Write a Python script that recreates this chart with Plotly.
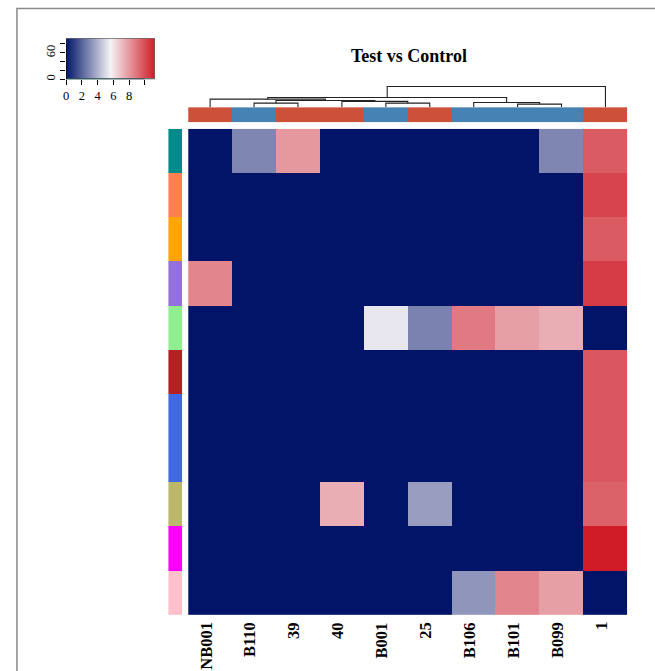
import plotly.graph_objects as go

W, H = 655, 671

# ---- data -------------------------------------------------------------
samples = ["NB001", "B110", "39", "40", "B001", "25", "B106", "B101", "B099", "1"]
sample_group = ["Test", "Control", "Test", "Test", "Control", "Test",
                "Control", "Control", "Control", "Test"]
group_colors = {"Test": "#CD5039", "Control": "#4682B4"}

row_colors = ["#008B8B", "#FF7F50", "#FFA500", "#9370DB", "#90EE90", "#B22222",
              "#4169E1", "#4169E1", "#BDB76B", "#FF00FF", "#FFC0CB"]

values = [
    [0.0, 2.9, 8.0, 0.0, 0.0, 0.0, 0.0, 0.0, 2.9, 9.6],
    [0.0, 0.0, 0.0, 0.0, 0.0, 0.0, 0.0, 0.0, 0.0, 10.2],
    [0.0, 0.0, 0.0, 0.0, 0.0, 0.0, 0.0, 0.0, 0.0, 9.6],
    [8.5, 0.0, 0.0, 0.0, 0.0, 0.0, 0.0, 0.0, 0.0, 10.4],
    [0.0, 0.0, 0.0, 0.0, 5.3, 2.8, 8.8, 7.8, 7.4, 0.0],
    [0.0, 0.0, 0.0, 0.0, 0.0, 0.0, 0.0, 0.0, 0.0, 9.7],
    [0.0, 0.0, 0.0, 0.0, 0.0, 0.0, 0.0, 0.0, 0.0, 9.7],
    [0.0, 0.0, 0.0, 0.0, 0.0, 0.0, 0.0, 0.0, 0.0, 9.7],
    [0.0, 0.0, 0.0, 7.4, 0.0, 3.5, 0.0, 0.0, 0.0, 9.4],
    [0.0, 0.0, 0.0, 0.0, 0.0, 0.0, 0.0, 0.0, 0.0, 11.25],
    [0.0, 0.0, 0.0, 0.0, 0.0, 0.0, 3.3, 8.5, 7.8, 0.0],
]

# column clustering: (left, right, merge height); new nodes are n1, n2, ...
col_merges = [
    ("B110", "39", 4.0),
    ("B001", "25", 4.0),
    ("40", "n2", 5.8),
    ("n1", "n3", 6.6),
    ("NB001", "n4", 8.0),
    ("B101", "B099", 3.0),
    ("B106", "n6", 4.6),
    ("n5", "n7", 9.6),
    ("n8", "1", 20.6),
]

key_ticks = [0, 2, 4, 6, 8, 10]
key_tick_text = ["0", "2", "4", "6", "8", ""]
count_ticks = [0, 20, 40, 60, 80]
count_tick_text = ["0", "", "", "60", ""]
count_top = 92.9

title = "Test vs Control"

# ---- helpers ----------------------------------------------------------
def px(p):
    return p / W


def py(p):
    return 1 - p / H


def stepped(colors):
    n = len(colors)
    cs = []
    for k, c in enumerate(colors):
        cs.append([k / n, c])
        cs.append([(k + 1) / n, c])
    return cs


zmax = max(max(r) for r in values)
heat_cs = [[0.0, "#011468"], [0.5, "#F5F2F6"], [1.0, "#D01C26"]]
serif = "Liberation Serif"

fig = go.Figure()

# main heatmap
fig.add_trace(go.Heatmap(
    z=values, x=list(range(len(samples))), y=list(range(len(values))),
    colorscale=heat_cs, zmin=0, zmax=zmax, showscale=False,
    xaxis="x", yaxis="y", hoverinfo="skip"))

# row side colours
fig.add_trace(go.Heatmap(
    z=[[k] for k in range(len(row_colors))], x=[0], y=list(range(len(row_colors))),
    colorscale=stepped(row_colors), zmin=-0.5, zmax=len(row_colors) - 0.5,
    showscale=False, xaxis="x2", yaxis="y2", hoverinfo="skip"))

# column side colours
grp_names = list(group_colors)
fig.add_trace(go.Heatmap(
    z=[[grp_names.index(g) for g in sample_group]], x=list(range(len(samples))), y=[0],
    colorscale=stepped([group_colors[g] for g in grp_names]),
    zmin=-0.5, zmax=len(grp_names) - 0.5,
    showscale=False, xaxis="x3", yaxis="y3", hoverinfo="skip"))

# column dendrogram
nodes = {s: (i, 0.0) for i, s in enumerate(samples)}
dx, dy = [], []
for k, (a, b, h) in enumerate(col_merges, start=1):
    xa, ha = nodes[a]
    xb, hb = nodes[b]
    dx += [xa, xa, xb, xb, None]
    dy += [ha, h, h, hb, None]
    nodes["n%d" % k] = ((xa + xb) / 2, h)
fig.add_trace(go.Scatter(
    x=dx, y=dy, mode="lines", line=dict(color="#222222", width=1.1),
    xaxis="x4", yaxis="y4", hoverinfo="skip"))

# colour key
nb = 300
edges = [zmax * i / nb for i in range(nb + 1)]
mids = [(edges[i] + edges[i + 1]) / 2 for i in range(nb)]
fig.add_trace(go.Heatmap(
    z=[mids], x=edges, y=[0, count_top], colorscale=heat_cs, zmin=0, zmax=zmax,
    showscale=False, xaxis="x5", yaxis="y5", hoverinfo="skip"))
fig.add_trace(go.Scatter(
    x=[0, zmax], y=[0.6, 0.6], mode="lines",
    line=dict(color="#55DDDD", width=1), xaxis="x5", yaxis="y5", hoverinfo="skip"))

hidden = dict(showgrid=False, zeroline=False, showticklabels=False, ticks="",
              showline=False, fixedrange=True)

heat_x = [px(186), px(627.3)]
heat_y = [py(616), py(129)]

fig.update_layout(
    width=W, height=H, margin=dict(l=0, r=0, t=0, b=0),
    paper_bgcolor="white", plot_bgcolor="white", showlegend=False,
    xaxis=dict(domain=heat_x, range=[-0.5, len(samples) - 0.5], **hidden),
    yaxis=dict(domain=heat_y, range=[len(values) - 0.5, -0.5], **hidden),
    xaxis2=dict(domain=[px(166), px(180)], range=[-0.5, 0.5], **hidden),
    yaxis2=dict(domain=heat_y, range=[len(values) - 0.5, -0.5], **hidden),
    xaxis3=dict(domain=heat_x, range=[-0.5, len(samples) - 0.5], **hidden),
    yaxis3=dict(domain=[py(122.7), py(107.3)], range=[-0.5, 0.5], **hidden),
    xaxis4=dict(domain=heat_x, range=[-0.5, len(samples) - 0.5], **hidden),
    yaxis4=dict(domain=[py(107.3), py(80)], range=[0, 27.3], **hidden),
    xaxis5=dict(domain=[px(63.3), px(152.3)], range=[0, zmax],
                showgrid=False, zeroline=False, showline=False, fixedrange=True,
                tickmode="array", tickvals=key_ticks, ticktext=key_tick_text,
                ticks="outside", ticklen=5, tickcolor="black", tickwidth=1,
                tickfont=dict(family=serif, size=12.5, color="black"),
                anchor="y5"),
    yaxis5=dict(domain=[py(79.3), py(38.3)], range=[0, count_top],
                showgrid=False, zeroline=False, showline=False, fixedrange=True,
                tickmode="array", tickvals=count_ticks, ticktext=count_tick_text,
                ticks="outside", ticklen=5, tickcolor="black", tickwidth=1,
                tickangle=-90,
                tickfont=dict(family=serif, size=12.5, color="black"),
                anchor="x5"),
)

shapes = [
    # outer frame
    dict(type="rect", xref="paper", yref="paper", x0=px(14), y0=py(8.5),
         x1=1.05, y1=-0.05, line=dict(color="#8A8A8A", width=1.5), layer="below"),
    # key border and axis lines
    dict(type="rect", xref="x5", yref="y5", x0=0, y0=0, x1=zmax, y1=count_top,
         line=dict(color="#333333", width=1)),
    dict(type="line", xref="x5", yref="y5", x0=0, y0=0, x1=key_ticks[-1], y1=0,
         line=dict(color="black", width=1)),
    dict(type="line", xref="x5", yref="y5", x0=0, y0=0, x1=0, y1=count_ticks[-1],
         line=dict(color="black", width=1)),
]
fig.update_layout(shapes=shapes)

annotations = [dict(
    text="<b>%s</b>" % title, xref="paper", yref="paper", x=px(407.5), y=py(56),
    xanchor="center", yanchor="middle", showarrow=False,
    font=dict(family=serif, size=18, color="black"))]
for i, s in enumerate(samples):
    annotations.append(dict(
        text="<b>%s</b>" % s, xref="x", yref="paper", x=i, y=py(616),
        xanchor="center", yanchor="top", textangle=-90, showarrow=False,
        xshift=-4.5, yshift=-5,
        font=dict(family=serif, size=16.5, color="black")))
fig.update_layout(annotations=annotations)

fig.write_html("out.html")
